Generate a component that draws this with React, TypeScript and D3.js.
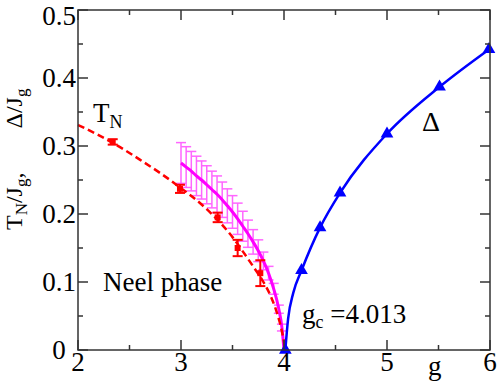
import React from "react";
import * as d3 from "d3";

// ---- data ----
const xTicks = [2, 3, 4, 5, 6];
const xMinor = [2.5, 3.5, 4.5, 5.5];
const yTicks = [0, 0.1, 0.2, 0.3, 0.4, 0.5];
const yTickLabels = ["0", "0.1", "0.2", "0.3", "0.4", "0.5"];
const yMinor = [0.05, 0.15, 0.25, 0.35, 0.45];

// Red T_N data points with error bars
const redG = [2.337, 2.99, 3.356, 3.55, 3.77];
const redT = [0.306, 0.237, 0.195, 0.15, 0.113];
const redErr = [0.004, 0.006, 0.007, 0.012, 0.019];

// Red dashed curve
const redCurveG = [2.0, 2.2, 2.4, 2.6, 2.8, 3.0, 3.2, 3.4, 3.5, 3.6, 3.7, 3.8, 3.86, 3.92, 3.96, 3.99, 4.013];
const redCurveT = [0.331, 0.316, 0.299, 0.28, 0.26, 0.238, 0.214, 0.184, 0.166, 0.145, 0.123, 0.1, 0.083, 0.06, 0.04, 0.02, 0];

// Magenta line with error bars
const magG = [3.0, 3.05, 3.1, 3.15, 3.2, 3.25, 3.3, 3.35, 3.4, 3.45, 3.5, 3.55, 3.6, 3.65, 3.7, 3.75, 3.8, 3.85, 3.9, 3.95, 3.98, 4.0];
const magT = [0.275, 0.269, 0.263, 0.256, 0.25, 0.243, 0.236, 0.229, 0.221, 0.212, 0.203, 0.193, 0.182, 0.171, 0.159, 0.146, 0.131, 0.113, 0.09, 0.06, 0.033, 0.0];
const magErr = [0.03, 0.03, 0.029, 0.029, 0.028, 0.028, 0.027, 0.027, 0.026, 0.025, 0.024, 0.023, 0.022, 0.02, 0.018, 0.016, 0.013, 0.01, 0.008, 0.006, 0.005, 0];

// Blue gap Δ
const blueG = [4.013, 4.17, 4.35, 4.544, 5.0, 5.51, 5.99];
const blueD = [0.0, 0.117, 0.18, 0.231, 0.318, 0.387, 0.442];
const blueCurveG = [4.013, 4.04, 4.09, 4.17, 4.35, 4.544, 5.0, 5.51, 5.99];
const blueCurveD = [0.0, 0.046, 0.084, 0.117, 0.18, 0.231, 0.318, 0.387, 0.442];

const W = 498;
const H = 384;
const L = 78, R = 490, T = 10, B = 350;
const FONT = "'Liberation Serif', 'Times New Roman', serif";

export default function App() {
  const x = d3.scaleLinear().domain([2, 6]).range([L, R]);
  const y = d3.scaleLinear().domain([0, 0.5]).range([B, T]);

  const redLine = d3
    .line<number>()
    .x((_, i) => x(redCurveG[i]))
    .y((d) => y(d))
    .curve(d3.curveMonotoneX);
  const magLine = d3
    .line<number>()
    .x((_, i) => x(magG[i]))
    .y((d) => y(d))
    .curve(d3.curveMonotoneX);
  const blueLine = d3
    .line<number>()
    .x((_, i) => x(blueCurveG[i]))
    .y((d) => y(d))
    .curve(d3.curveMonotoneX);

  const tri = d3.symbol().type(d3.symbolTriangle).size(70)();
  const axisColor = "#333";

  return (
    <svg width={W} height={H} style={{ position: "absolute", left: 0, top: 0, background: "#fff" }} fontFamily={FONT}>
      {/* magenta error bars */}
      <g stroke="#ff66ff" strokeWidth={1.5} fill="none">
        {magG.map((g, i) =>
          magErr[i] > 0 ? (
            <g key={i}>
              <line x1={x(g)} x2={x(g)} y1={y(magT[i] - magErr[i])} y2={y(magT[i] + magErr[i])} />
              <line x1={x(g) - 5} x2={x(g) + 5} y1={y(magT[i] + magErr[i])} y2={y(magT[i] + magErr[i])} />
              <line x1={x(g) - 5} x2={x(g) + 5} y1={y(magT[i] - magErr[i])} y2={y(magT[i] - magErr[i])} />
            </g>
          ) : null
        )}
      </g>
      <path d={magLine(magT) || ""} fill="none" stroke="#ff00ff" strokeWidth={3} />

      {/* red dashed curve */}
      <path d={redLine(redCurveT) || ""} fill="none" stroke="#ff0000" strokeWidth={2.5} strokeDasharray="7,4" />
      <g stroke="#ff0000" strokeWidth={2} fill="#ff0000">
        {redG.map((g, i) => (
          <g key={i}>
            <line x1={x(g)} x2={x(g)} y1={y(redT[i] - redErr[i])} y2={y(redT[i] + redErr[i])} />
            <line x1={x(g) - 5} x2={x(g) + 5} y1={y(redT[i] + redErr[i])} y2={y(redT[i] + redErr[i])} />
            <line x1={x(g) - 5} x2={x(g) + 5} y1={y(redT[i] - redErr[i])} y2={y(redT[i] - redErr[i])} />
            <rect x={x(g) - 3} y={y(redT[i]) - 3} width={6} height={6} stroke="none" />
          </g>
        ))}
      </g>

      {/* blue curve */}
      <path d={blueLine(blueCurveD) || ""} fill="none" stroke="#0000ff" strokeWidth={2.5} />
      <g fill="#0000ff">
        {blueG.map((g, i) => (
          <path key={i} d={tri || ""} transform={`translate(${x(g)},${y(blueD[i])})`} />
        ))}
      </g>

      {/* frame */}
      <rect x={L} y={T} width={R - L} height={B - T} fill="none" stroke={axisColor} strokeWidth={1.5} />
      <g stroke={axisColor} strokeWidth={1.5}>
        {xTicks.map((t) => (
          <g key={"xt" + t}>
            <line x1={x(t)} x2={x(t)} y1={B} y2={B - 10} />
            <line x1={x(t)} x2={x(t)} y1={T} y2={T + 10} />
          </g>
        ))}
        {xMinor.map((t) => (
          <g key={"xm" + t}>
            <line x1={x(t)} x2={x(t)} y1={B} y2={B - 5} />
            <line x1={x(t)} x2={x(t)} y1={T} y2={T + 5} />
          </g>
        ))}
        {yTicks.map((t) => (
          <g key={"yt" + t}>
            <line x1={L} x2={L + 10} y1={y(t)} y2={y(t)} />
            <line x1={R} x2={R - 10} y1={y(t)} y2={y(t)} />
          </g>
        ))}
        {yMinor.map((t) => (
          <g key={"ym" + t}>
            <line x1={L} x2={L + 5} y1={y(t)} y2={y(t)} />
            <line x1={R} x2={R - 5} y1={y(t)} y2={y(t)} />
          </g>
        ))}
      </g>

      {/* tick labels */}
      <g fontSize={27} fill="#000">
        {xTicks.map((t) => (
          <text key={"xl" + t} x={x(t)} y={B + 21} textAnchor="middle">
            {t}
          </text>
        ))}
        {yTicks.map((t, i) => (
          <text key={"yl" + t} x={59} y={Math.max(y(t) + 9, 24.5)} textAnchor="middle">
            {yTickLabels[i]}
          </text>
        ))}
        <text x={428} y={375}>g</text>
      </g>

      {/* y axis title */}
      <text transform="translate(22,230) rotate(-90)" fontSize={24} fill="#000">
        <tspan>T</tspan>
        <tspan fontSize={17} dy={5}>N</tspan>
        <tspan dy={-5}>/J</tspan>
        <tspan fontSize={17} dy={5}>g</tspan>
        <tspan dy={-5}>,</tspan>
        <tspan dx={44}>Δ/J</tspan>
        <tspan fontSize={17} dy={5}>g</tspan>
      </text>

      {/* annotations */}
      <text x={93} y={122} fontSize={27} fill="#000">
        T<tspan fontSize={18} dy={6}>N</tspan>
      </text>
      <text x={422} y={131} fontSize={28} fill="#000">Δ</text>
      <text x={103} y={291} fontSize={27} fill="#000">Neel phase</text>
      <text x={302} y={323} fontSize={27} fill="#000">
        g<tspan fontSize={18} dy={5}>c</tspan>
        <tspan dy={-5}> =4.013</tspan>
      </text>
    </svg>
  );
}
